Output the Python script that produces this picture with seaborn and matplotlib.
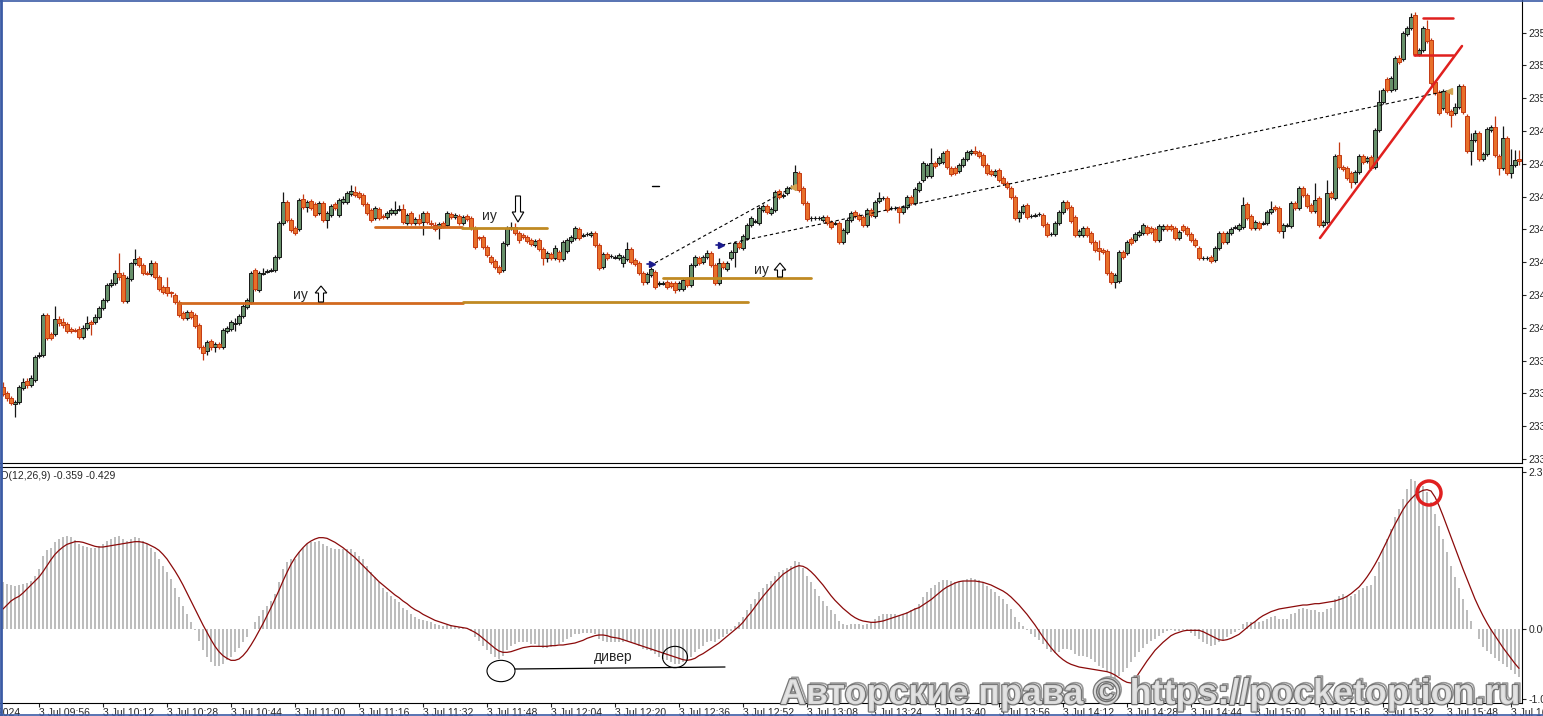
import numpy as np
import pandas as pd
import matplotlib
matplotlib.use("Agg")
import matplotlib.pyplot as plt
import matplotlib.patheffects as pe
from matplotlib import font_manager
from matplotlib.patches import Ellipse, FancyArrow
from matplotlib.lines import Line2D
import seaborn as sns

# ==============================
# 1. Data (1-minute XAUUSD bars, 3 Jul 2024)
# ==============================
OPEN = [
    2337.15, 2336.85, 2336.60, 2336.30, 2336.40, 2337.10, 2337.45, 2337.25, 2337.50, 2338.70,
    2338.75, 2340.75, 2339.80, 2339.80, 2340.55, 2340.40, 2340.30, 2340.05, 2340.00, 2340.05,
    2339.65, 2340.10, 2340.40, 2340.40, 2340.65, 2341.10, 2341.50, 2342.25, 2342.35, 2342.85,
    2342.75, 2341.45, 2342.55, 2343.35, 2343.60, 2343.25, 2342.85, 2342.80, 2343.35, 2342.65,
    2342.15, 2342.15, 2341.90, 2341.75, 2341.40, 2340.85, 2340.60, 2340.90, 2340.75, 2340.25,
    2339.15, 2338.95, 2339.45, 2339.15, 2339.30, 2339.15, 2339.95, 2340.05, 2340.32, 2340.35,
    2340.70, 2341.15, 2341.40, 2343.00, 2342.00, 2342.82, 2342.92, 2342.97, 2343.00, 2343.65,
    2345.35, 2346.40, 2345.50, 2345.10, 2345.05, 2346.55, 2346.15, 2346.45, 2346.30, 2345.85,
    2346.35, 2345.50, 2345.75, 2346.30, 2345.75, 2346.40, 2346.40, 2346.80, 2346.90, 2346.85,
    2346.75, 2346.30, 2346.00, 2345.60, 2346.05, 2345.68, 2345.65, 2345.85, 2345.85, 2346.02,
    2346.05, 2345.35, 2345.85, 2345.35, 2345.55, 2345.40, 2345.85, 2345.35, 2345.25, 2345.10,
    2345.35, 2345.25, 2345.80, 2345.65, 2345.70, 2345.35, 2345.70, 2345.60, 2345.10, 2344.65,
    2344.65, 2344.15, 2343.65, 2343.45, 2343.15, 2343.00, 2344.30, 2345.10, 2345.15, 2344.85,
    2344.75, 2344.65, 2344.50, 2344.25, 2344.50, 2344.05, 2343.60, 2343.80, 2343.60, 2343.90,
    2343.55, 2343.95, 2344.45, 2344.60, 2345.05, 2344.72, 2344.78, 2344.75, 2344.85, 2344.25,
    2343.15, 2343.80, 2343.68, 2343.62, 2343.60, 2343.35, 2343.55, 2344.05, 2343.50, 2343.35,
    2342.85, 2342.40, 2342.75, 2342.90, 2342.32, 2342.32, 2342.40, 2342.35, 2342.35, 2342.05,
    2342.05, 2342.55, 2342.25, 2343.25, 2343.60, 2343.40, 2343.65, 2343.85, 2343.25, 2342.35,
    2343.35, 2343.05, 2343.60, 2343.90, 2344.35, 2344.10, 2344.60, 2345.25, 2345.42, 2345.35,
    2346.00, 2346.20, 2345.85, 2346.00, 2346.95, 2346.72, 2346.85, 2347.12, 2347.10, 2347.85,
    2347.10, 2346.35, 2345.58, 2345.58, 2345.58, 2345.50, 2345.65, 2345.40, 2345.32, 2345.35,
    2344.40, 2344.90, 2345.50, 2345.90, 2345.75, 2345.65, 2345.25, 2346.00, 2345.70, 2346.45,
    2346.58, 2346.60, 2346.08, 2346.08, 2346.10, 2345.90, 2346.15, 2346.65, 2346.35, 2347.00,
    2347.50, 2347.70, 2347.70, 2348.35, 2348.35, 2348.40, 2348.95, 2348.10, 2348.10, 2347.95,
    2348.25, 2348.55, 2348.85, 2348.95, 2348.90, 2348.75, 2348.25, 2347.95, 2347.75, 2348.00,
    2347.60, 2347.35, 2347.10, 2346.65, 2345.60, 2345.90, 2346.25, 2345.68, 2345.72, 2345.78,
    2345.75, 2345.30, 2344.78, 2344.80, 2345.35, 2345.90, 2346.40, 2346.15, 2345.65, 2344.75,
    2344.75, 2345.10, 2344.85, 2344.40, 2344.10, 2344.00, 2343.95, 2342.85, 2342.40, 2342.45,
    2343.90, 2343.85, 2344.55, 2344.50, 2344.75, 2344.85, 2345.15, 2345.10, 2345.05, 2344.50,
    2345.05, 2345.20, 2345.20, 2345.10, 2344.60, 2345.20, 2345.10, 2344.80, 2344.50, 2344.10,
    2343.58, 2343.58, 2343.65, 2343.50, 2344.10, 2344.85, 2344.40, 2344.85, 2345.12, 2345.05,
    2345.15, 2346.30, 2345.70, 2345.10, 2345.35, 2345.32, 2345.35, 2345.90, 2346.15, 2346.10,
    2344.95, 2345.22, 2345.20, 2346.35, 2346.10, 2347.10, 2346.75, 2346.25, 2345.95, 2346.60,
    2345.25, 2345.40, 2346.85, 2346.60, 2348.75, 2348.15, 2348.10, 2347.85, 2347.40, 2347.90,
    2348.70, 2348.45, 2348.65, 2348.15, 2350.00, 2351.40, 2352.55, 2352.00, 2352.05, 2353.60,
    2353.55, 2354.80, 2355.10, 2355.75, 2353.80, 2354.00, 2355.05, 2354.50, 2352.40, 2351.90,
    2351.10, 2351.90, 2350.95, 2350.85, 2351.15, 2352.20, 2350.70, 2348.95, 2349.50, 2349.85,
    2348.55, 2348.80, 2350.00, 2350.15, 2348.70, 2348.10, 2349.60, 2347.85, 2348.25, 2348.55,
]
HIGH = [
    2337.40, 2336.95, 2336.70, 2336.50, 2337.25, 2337.60, 2337.60, 2337.75, 2338.75, 2338.90,
    2340.85, 2340.85, 2339.90, 2341.20, 2340.70, 2340.60, 2340.40, 2340.15, 2340.10, 2340.20,
    2340.25, 2340.70, 2340.50, 2340.80, 2341.20, 2341.60, 2342.35, 2342.55, 2343.00, 2343.85,
    2342.90, 2342.70, 2343.40, 2344.05, 2343.70, 2343.35, 2342.95, 2343.50, 2343.45, 2342.75,
    2342.25, 2342.65, 2341.95, 2341.85, 2341.50, 2340.95, 2341.00, 2341.00, 2340.85, 2340.35,
    2339.25, 2339.50, 2339.55, 2339.40, 2339.40, 2340.10, 2340.20, 2340.50, 2340.60, 2340.80,
    2341.30, 2341.60, 2342.95, 2343.10, 2342.95, 2343.10, 2343.05, 2343.10, 2343.75, 2345.45,
    2346.90, 2346.50, 2345.60, 2345.20, 2346.60, 2346.80, 2346.50, 2346.55, 2346.40, 2346.45,
    2346.45, 2345.95, 2346.30, 2346.40, 2346.60, 2346.70, 2346.95, 2347.25, 2347.20, 2346.95,
    2346.85, 2346.40, 2346.10, 2346.20, 2346.15, 2345.80, 2345.95, 2346.10, 2346.45, 2346.25,
    2346.30, 2345.85, 2345.95, 2345.65, 2345.80, 2345.95, 2345.95, 2345.50, 2345.40, 2345.40,
    2345.45, 2345.95, 2345.90, 2345.85, 2345.80, 2345.75, 2345.80, 2345.70, 2345.20, 2344.70,
    2344.75, 2344.25, 2343.75, 2343.55, 2343.25, 2344.45, 2345.20, 2345.40, 2345.35, 2344.95,
    2344.85, 2344.75, 2344.60, 2344.55, 2344.60, 2344.15, 2343.95, 2343.90, 2344.25, 2344.00,
    2344.50, 2344.60, 2344.75, 2345.20, 2345.15, 2344.85, 2344.90, 2344.95, 2344.95, 2344.35,
    2343.90, 2343.90, 2343.80, 2343.75, 2343.85, 2343.75, 2344.40, 2344.15, 2343.60, 2343.45,
    2342.95, 2342.90, 2343.15, 2343.00, 2342.45, 2342.45, 2342.50, 2342.45, 2342.45, 2342.45,
    2342.60, 2342.65, 2343.35, 2343.75, 2343.70, 2343.75, 2344.00, 2343.95, 2343.35, 2343.60,
    2343.45, 2343.45, 2344.00, 2344.45, 2344.45, 2344.80, 2345.35, 2345.70, 2345.55, 2346.20,
    2346.30, 2346.30, 2346.15, 2347.00, 2347.05, 2346.85, 2347.20, 2347.25, 2348.25, 2347.95,
    2347.20, 2346.45, 2345.70, 2345.70, 2345.70, 2345.75, 2345.75, 2345.50, 2345.45, 2345.45,
    2345.10, 2345.60, 2345.95, 2346.00, 2345.85, 2345.75, 2346.10, 2346.10, 2346.50, 2346.90,
    2346.70, 2346.70, 2346.20, 2346.20, 2346.20, 2346.25, 2346.75, 2346.75, 2347.15, 2347.45,
    2348.45, 2348.35, 2349.10, 2348.45, 2348.70, 2348.95, 2349.05, 2348.20, 2348.20, 2348.35,
    2348.65, 2349.00, 2349.05, 2349.20, 2349.00, 2348.85, 2348.35, 2348.05, 2348.05, 2348.10,
    2347.70, 2347.45, 2347.20, 2346.75, 2346.00, 2346.30, 2346.35, 2345.80, 2345.85, 2345.90,
    2345.85, 2345.40, 2344.90, 2345.45, 2346.00, 2346.50, 2346.50, 2346.25, 2345.75, 2345.05,
    2345.20, 2345.20, 2344.95, 2344.50, 2344.50, 2344.10, 2344.05, 2342.95, 2342.85, 2344.00,
    2344.00, 2344.50, 2344.65, 2344.90, 2345.00, 2345.35, 2345.25, 2345.20, 2345.15, 2345.30,
    2345.30, 2345.30, 2345.30, 2345.20, 2345.00, 2345.30, 2345.20, 2344.90, 2344.60, 2344.20,
    2343.70, 2343.70, 2343.75, 2344.20, 2344.95, 2344.95, 2344.95, 2345.15, 2345.25, 2345.35,
    2346.65, 2346.40, 2345.80, 2345.50, 2345.45, 2345.45, 2346.00, 2346.45, 2346.25, 2346.20,
    2345.35, 2345.35, 2346.45, 2346.45, 2347.20, 2347.20, 2346.85, 2346.35, 2347.35, 2346.70,
    2345.50, 2347.50, 2346.95, 2348.80, 2349.40, 2348.25, 2348.20, 2347.95, 2348.00, 2348.80,
    2348.80, 2348.70, 2348.75, 2350.10, 2352.00, 2352.10, 2352.65, 2352.70, 2353.70, 2353.75,
    2354.95, 2355.20, 2355.85, 2355.90, 2354.10, 2355.20, 2355.50, 2354.60, 2352.50, 2352.00,
    2352.05, 2352.00, 2351.05, 2351.35, 2352.30, 2352.30, 2350.80, 2349.85, 2350.00, 2349.95,
    2348.90, 2350.15, 2350.25, 2350.70, 2348.80, 2350.20, 2349.70, 2349.05, 2349.00, 2349.00,
]
LOW = [
    2336.70, 2336.45, 2336.25, 2335.65, 2336.30, 2337.00, 2337.10, 2337.15, 2337.40, 2338.60,
    2338.65, 2339.50, 2339.50, 2339.70, 2340.20, 2340.10, 2339.85, 2339.85, 2339.90, 2339.55,
    2339.55, 2340.00, 2339.75, 2340.30, 2340.55, 2341.00, 2341.40, 2342.15, 2342.25, 2342.50,
    2341.35, 2341.35, 2342.45, 2343.25, 2343.15, 2342.75, 2342.75, 2342.70, 2342.55, 2341.95,
    2341.80, 2341.70, 2341.65, 2341.30, 2340.65, 2340.50, 2340.50, 2340.55, 2340.10, 2339.05,
    2338.50, 2338.75, 2339.00, 2338.90, 2339.05, 2339.05, 2339.85, 2339.95, 2339.95, 2340.25,
    2340.60, 2341.05, 2341.30, 2341.95, 2341.90, 2342.75, 2342.85, 2342.90, 2342.90, 2343.55,
    2345.25, 2345.40, 2344.90, 2344.75, 2344.95, 2346.05, 2345.90, 2346.00, 2345.65, 2345.75,
    2345.40, 2345.10, 2345.65, 2346.00, 2345.65, 2346.30, 2346.30, 2346.70, 2346.65, 2346.55,
    2346.20, 2345.75, 2345.40, 2345.50, 2345.50, 2345.55, 2345.55, 2345.75, 2345.75, 2345.95,
    2345.30, 2345.25, 2345.25, 2345.25, 2345.25, 2344.75, 2345.30, 2345.20, 2344.95, 2344.55,
    2345.10, 2345.15, 2345.55, 2345.55, 2345.25, 2345.25, 2345.45, 2345.00, 2344.05, 2344.50,
    2344.05, 2343.65, 2343.30, 2343.05, 2342.80, 2342.90, 2344.20, 2345.00, 2344.75, 2344.35,
    2344.55, 2344.35, 2344.20, 2344.15, 2343.95, 2343.25, 2343.40, 2343.50, 2343.50, 2343.40,
    2343.45, 2343.85, 2344.35, 2344.50, 2344.50, 2344.65, 2344.70, 2344.65, 2344.15, 2343.00,
    2343.05, 2343.50, 2343.60, 2343.55, 2343.50, 2343.15, 2343.45, 2343.30, 2343.20, 2342.75,
    2342.25, 2342.30, 2342.65, 2342.05, 2342.20, 2342.25, 2342.05, 2342.10, 2341.85, 2341.95,
    2341.95, 2342.15, 2342.15, 2343.15, 2343.25, 2343.30, 2343.55, 2343.15, 2342.25, 2342.25,
    2343.05, 2342.95, 2343.50, 2343.15, 2344.05, 2344.00, 2344.50, 2345.15, 2345.35, 2345.25,
    2345.90, 2345.80, 2345.75, 2345.90, 2346.55, 2346.60, 2346.75, 2347.05, 2347.00, 2346.90,
    2346.25, 2345.45, 2345.45, 2345.50, 2345.50, 2345.40, 2345.25, 2345.05, 2345.25, 2344.30,
    2344.30, 2344.80, 2345.40, 2345.60, 2345.45, 2345.15, 2345.15, 2345.65, 2345.60, 2346.35,
    2346.50, 2345.90, 2346.00, 2346.00, 2345.35, 2345.80, 2346.05, 2346.25, 2346.25, 2346.90,
    2347.40, 2347.60, 2347.60, 2348.10, 2348.25, 2348.30, 2348.05, 2347.70, 2347.75, 2347.85,
    2348.15, 2348.45, 2348.75, 2348.75, 2348.60, 2348.15, 2347.75, 2347.70, 2347.65, 2347.40,
    2347.25, 2347.05, 2346.55, 2345.50, 2345.40, 2345.80, 2345.55, 2345.60, 2345.65, 2345.70,
    2345.15, 2344.65, 2344.70, 2344.70, 2345.25, 2345.80, 2346.00, 2345.35, 2344.65, 2344.65,
    2344.65, 2344.65, 2344.30, 2343.90, 2343.50, 2343.80, 2342.75, 2342.30, 2342.10, 2342.35,
    2343.55, 2343.75, 2344.25, 2344.40, 2344.65, 2344.75, 2344.75, 2344.80, 2344.40, 2344.40,
    2344.95, 2344.95, 2344.95, 2344.50, 2344.50, 2344.90, 2344.70, 2344.40, 2344.15, 2343.50,
    2343.50, 2343.50, 2343.35, 2343.40, 2344.00, 2344.30, 2344.30, 2344.75, 2345.05, 2344.95,
    2345.05, 2345.50, 2345.00, 2345.00, 2345.00, 2345.25, 2345.25, 2345.80, 2345.95, 2344.85,
    2344.60, 2345.15, 2345.10, 2346.00, 2346.00, 2346.65, 2346.10, 2345.85, 2345.85, 2345.15,
    2345.15, 2345.30, 2346.55, 2346.50, 2348.05, 2347.95, 2347.50, 2347.10, 2347.30, 2347.80,
    2348.30, 2348.35, 2348.00, 2348.05, 2349.90, 2351.30, 2351.90, 2351.90, 2351.95, 2353.30,
    2353.45, 2354.70, 2355.00, 2353.70, 2353.70, 2353.90, 2354.35, 2352.25, 2351.75, 2350.75,
    2351.00, 2350.80, 2350.15, 2350.75, 2351.05, 2350.80, 2348.85, 2348.25, 2349.40, 2348.45,
    2348.45, 2348.70, 2349.90, 2348.65, 2347.75, 2348.00, 2347.75, 2347.60, 2348.15, 2348.25,
]
CLOSE = [
    2336.80, 2336.60, 2336.35, 2336.40, 2337.15, 2337.40, 2337.25, 2337.60, 2338.65, 2338.75,
    2340.75, 2339.60, 2339.60, 2340.55, 2340.35, 2340.25, 2339.95, 2339.95, 2339.97, 2339.65,
    2340.10, 2340.35, 2340.30, 2340.65, 2341.10, 2341.50, 2342.25, 2342.35, 2342.85, 2342.65,
    2341.45, 2342.60, 2343.35, 2343.55, 2343.25, 2342.85, 2342.82, 2343.35, 2342.65, 2342.05,
    2341.90, 2341.85, 2341.85, 2341.40, 2340.75, 2340.60, 2340.90, 2340.65, 2340.20, 2339.15,
    2338.85, 2339.40, 2339.15, 2339.30, 2339.15, 2340.00, 2340.10, 2340.40, 2340.35, 2340.70,
    2341.20, 2341.50, 2342.85, 2342.05, 2342.85, 2342.85, 2342.95, 2343.00, 2343.65, 2345.35,
    2346.40, 2345.50, 2345.00, 2344.85, 2346.50, 2346.15, 2346.40, 2346.10, 2345.75, 2346.35,
    2345.50, 2345.85, 2346.20, 2346.10, 2346.50, 2346.55, 2346.85, 2346.95, 2346.75, 2346.65,
    2346.30, 2345.85, 2345.50, 2346.10, 2345.60, 2345.65, 2345.85, 2346.00, 2346.00, 2346.05,
    2345.40, 2345.75, 2345.35, 2345.55, 2345.35, 2345.85, 2345.40, 2345.32, 2345.05, 2345.30,
    2345.20, 2345.85, 2345.65, 2345.75, 2345.35, 2345.65, 2345.55, 2345.10, 2344.15, 2344.60,
    2344.15, 2343.75, 2343.40, 2343.15, 2342.90, 2344.35, 2345.10, 2345.15, 2344.85, 2344.50,
    2344.65, 2344.45, 2344.30, 2344.45, 2344.05, 2343.60, 2343.85, 2343.60, 2344.10, 2343.55,
    2344.40, 2344.50, 2344.65, 2345.10, 2344.60, 2344.75, 2344.80, 2344.85, 2344.25, 2343.10,
    2343.80, 2343.60, 2343.70, 2343.65, 2343.75, 2343.65, 2344.05, 2343.40, 2343.30, 2342.85,
    2342.40, 2342.80, 2343.05, 2342.15, 2342.35, 2342.35, 2342.15, 2342.20, 2342.00, 2342.35,
    2342.50, 2342.25, 2343.25, 2343.65, 2343.35, 2343.65, 2343.85, 2343.25, 2342.35, 2343.35,
    2343.15, 2343.35, 2343.90, 2344.35, 2344.15, 2344.70, 2345.25, 2345.60, 2345.45, 2346.10,
    2346.20, 2345.90, 2346.05, 2346.90, 2346.65, 2346.75, 2347.10, 2347.15, 2347.90, 2347.00,
    2346.35, 2345.55, 2345.60, 2345.60, 2345.60, 2345.65, 2345.35, 2345.15, 2345.35, 2344.40,
    2345.00, 2345.50, 2345.85, 2345.70, 2345.55, 2345.25, 2346.00, 2345.75, 2346.40, 2346.60,
    2346.60, 2346.00, 2346.10, 2346.10, 2345.90, 2346.15, 2346.65, 2346.35, 2347.05, 2347.35,
    2348.35, 2348.25, 2348.35, 2348.20, 2348.60, 2348.85, 2348.15, 2347.80, 2347.85, 2348.25,
    2348.55, 2348.90, 2348.95, 2348.85, 2348.70, 2348.25, 2347.85, 2347.80, 2347.95, 2347.50,
    2347.35, 2347.15, 2346.65, 2345.60, 2345.90, 2346.20, 2345.65, 2345.70, 2345.75, 2345.80,
    2345.25, 2344.75, 2344.80, 2345.35, 2345.90, 2346.40, 2346.10, 2345.45, 2344.75, 2344.95,
    2345.10, 2344.75, 2344.40, 2344.00, 2343.95, 2343.90, 2342.85, 2342.40, 2342.75, 2343.90,
    2343.65, 2344.40, 2344.35, 2344.80, 2344.90, 2345.25, 2344.85, 2344.90, 2344.50, 2345.20,
    2345.20, 2345.05, 2345.05, 2344.60, 2344.90, 2345.00, 2344.80, 2344.50, 2344.25, 2343.60,
    2343.60, 2343.60, 2343.45, 2344.10, 2344.85, 2344.40, 2344.85, 2345.05, 2345.15, 2345.25,
    2346.25, 2345.60, 2345.10, 2345.40, 2345.10, 2345.35, 2345.90, 2346.05, 2346.05, 2344.95,
    2345.25, 2345.25, 2346.35, 2346.10, 2347.10, 2346.75, 2346.20, 2345.95, 2346.50, 2345.25,
    2345.40, 2346.85, 2346.65, 2348.70, 2348.15, 2348.05, 2347.60, 2347.40, 2347.90, 2348.70,
    2348.40, 2348.60, 2348.10, 2350.00, 2351.40, 2352.00, 2352.00, 2352.60, 2353.60, 2353.40,
    2354.85, 2355.10, 2355.65, 2353.80, 2354.00, 2355.10, 2354.45, 2352.35, 2351.85, 2350.85,
    2351.95, 2350.90, 2350.75, 2351.15, 2352.20, 2350.90, 2348.95, 2349.50, 2349.85, 2348.55,
    2348.80, 2350.05, 2350.15, 2348.75, 2348.10, 2349.60, 2347.85, 2348.25, 2348.50, 2348.45,
]

# MACD(12,26,9): main line drawn as histogram, signal as line
MACD_HIST = [
    0.70, 0.68, 0.66, 0.64, 0.66, 0.68, 0.69, 0.72, 0.80, 0.90,
    1.10, 1.18, 1.22, 1.30, 1.35, 1.38, 1.40, 1.38, 1.33, 1.28,
    1.25, 1.23, 1.22, 1.22, 1.24, 1.28, 1.32, 1.35, 1.38, 1.40,
    1.35, 1.32, 1.35, 1.38, 1.36, 1.32, 1.27, 1.22, 1.15, 1.05,
    0.95, 0.85, 0.75, 0.62, 0.48, 0.35, 0.22, 0.10, -0.02, -0.18,
    -0.32, -0.42, -0.50, -0.55, -0.55, -0.52, -0.47, -0.42, -0.35, -0.28,
    -0.20, -0.12, 0.00, 0.10, 0.20, 0.28, 0.35, 0.42, 0.52, 0.70,
    0.90, 1.00, 1.05, 1.05, 1.15, 1.22, 1.28, 1.30, 1.30, 1.32,
    1.28, 1.25, 1.22, 1.20, 1.20, 1.20, 1.20, 1.20, 1.15, 1.10,
    1.05, 0.95, 0.85, 0.78, 0.70, 0.62, 0.55, 0.50, 0.45, 0.40,
    0.32, 0.28, 0.22, 0.18, 0.15, 0.14, 0.12, 0.10, 0.08, 0.06,
    0.05, 0.06, 0.06, 0.05, 0.03, 0.02, 0.00, -0.03, -0.12, -0.18,
    -0.25, -0.32, -0.38, -0.42, -0.45, -0.40, -0.32, -0.25, -0.22, -0.20,
    -0.20, -0.20, -0.22, -0.23, -0.25, -0.28, -0.28, -0.27, -0.25, -0.23,
    -0.20, -0.15, -0.12, -0.08, -0.07, -0.06, -0.06, -0.06, -0.08, -0.15,
    -0.18, -0.20, -0.20, -0.20, -0.20, -0.20, -0.18, -0.20, -0.22, -0.25,
    -0.30, -0.32, -0.33, -0.38, -0.42, -0.45, -0.47, -0.50, -0.52, -0.52,
    -0.50, -0.48, -0.42, -0.35, -0.30, -0.25, -0.20, -0.18, -0.20, -0.15,
    -0.12, -0.08, -0.03, 0.05, 0.10, 0.18, 0.28, 0.38, 0.45, 0.55,
    0.62, 0.68, 0.72, 0.80, 0.85, 0.88, 0.92, 0.95, 1.02, 1.00,
    0.92, 0.80, 0.70, 0.60, 0.50, 0.42, 0.35, 0.28, 0.22, 0.12,
    0.08, 0.06, 0.08, 0.08, 0.08, 0.06, 0.08, 0.10, 0.15, 0.20,
    0.22, 0.22, 0.22, 0.22, 0.20, 0.22, 0.25, 0.28, 0.32, 0.38,
    0.48, 0.55, 0.62, 0.66, 0.70, 0.74, 0.74, 0.72, 0.70, 0.70,
    0.72, 0.75, 0.76, 0.75, 0.73, 0.70, 0.65, 0.60, 0.55, 0.50,
    0.45, 0.38, 0.30, 0.18, 0.10, 0.05, -0.02, -0.08, -0.12, -0.16,
    -0.22, -0.30, -0.35, -0.36, -0.34, -0.30, -0.30, -0.32, -0.38, -0.40,
    -0.40, -0.42, -0.45, -0.50, -0.55, -0.58, -0.65, -0.72, -0.75, -0.70,
    -0.65, -0.58, -0.50, -0.42, -0.35, -0.28, -0.22, -0.18, -0.15, -0.10,
    -0.06, -0.03, -0.02, -0.03, -0.03, -0.02, -0.03, -0.06, -0.10, -0.15,
    -0.20, -0.23, -0.25, -0.24, -0.20, -0.16, -0.12, -0.08, -0.05, -0.02,
    0.08, 0.10, 0.10, 0.10, 0.10, 0.12, 0.15, 0.18, 0.20, 0.15,
    0.15, 0.15, 0.22, 0.24, 0.30, 0.32, 0.30, 0.28, 0.28, 0.25,
    0.25, 0.30, 0.32, 0.45, 0.50, 0.52, 0.50, 0.50, 0.52, 0.58,
    0.62, 0.65, 0.66, 0.80, 1.00, 1.20, 1.35, 1.50, 1.68, 1.80,
    1.95, 2.10, 2.25, 2.22, 2.18, 2.15, 2.05, 1.90, 1.72, 1.55,
    1.35, 1.15, 0.95, 0.78, 0.62, 0.45, 0.28, 0.12, 0.00, -0.15,
    -0.27, -0.33, -0.38, -0.43, -0.48, -0.52, -0.57, -0.62, -0.67, -0.72,
]
MACD_SIGNAL = [
    0.30, 0.36, 0.42, 0.46, 0.49, 0.54, 0.60, 0.66, 0.72, 0.78,
    0.86, 0.95, 1.04, 1.12, 1.18, 1.23, 1.27, 1.29, 1.31, 1.31,
    1.30, 1.28, 1.26, 1.24, 1.23, 1.23, 1.24, 1.25, 1.26, 1.27,
    1.28, 1.29, 1.30, 1.31, 1.31, 1.30, 1.28, 1.25, 1.22, 1.18,
    1.12, 1.05, 0.96, 0.87, 0.77, 0.66, 0.54, 0.42, 0.30, 0.18,
    0.06, -0.05, -0.16, -0.26, -0.34, -0.40, -0.44, -0.47, -0.47, -0.45,
    -0.40, -0.33, -0.24, -0.14, -0.03, 0.08, 0.20, 0.32, 0.45, 0.58,
    0.72, 0.85, 0.97, 1.07, 1.15, 1.22, 1.28, 1.32, 1.35, 1.37,
    1.37, 1.36, 1.33, 1.30, 1.26, 1.22, 1.17, 1.12, 1.07, 1.01,
    0.95, 0.89, 0.83, 0.77, 0.71, 0.66, 0.61, 0.56, 0.51, 0.47,
    0.42, 0.38, 0.33, 0.29, 0.26, 0.22, 0.19, 0.16, 0.13, 0.11,
    0.09, 0.07, 0.05, 0.04, 0.03, 0.02, 0.01, -0.02, -0.05, -0.09,
    -0.14, -0.19, -0.24, -0.29, -0.33, -0.35, -0.35, -0.34, -0.32, -0.30,
    -0.28, -0.27, -0.26, -0.26, -0.26, -0.26, -0.26, -0.25, -0.25, -0.24,
    -0.24, -0.23, -0.22, -0.21, -0.19, -0.17, -0.14, -0.12, -0.10, -0.09,
    -0.09, -0.10, -0.12, -0.13, -0.14, -0.16, -0.18, -0.20, -0.22, -0.24,
    -0.26, -0.28, -0.30, -0.32, -0.34, -0.36, -0.38, -0.40, -0.42, -0.44,
    -0.46, -0.47, -0.46, -0.44, -0.40, -0.37, -0.33, -0.29, -0.25, -0.21,
    -0.16, -0.11, -0.06, -0.01, 0.04, 0.10, 0.18, 0.25, 0.33, 0.41,
    0.49, 0.56, 0.63, 0.70, 0.76, 0.82, 0.86, 0.90, 0.93, 0.95,
    0.94, 0.91, 0.86, 0.80, 0.73, 0.66, 0.58, 0.50, 0.43, 0.37,
    0.31, 0.26, 0.21, 0.17, 0.14, 0.12, 0.11, 0.10, 0.10, 0.11,
    0.12, 0.14, 0.16, 0.18, 0.20, 0.22, 0.24, 0.27, 0.30, 0.32,
    0.36, 0.40, 0.44, 0.49, 0.54, 0.59, 0.63, 0.66, 0.69, 0.71,
    0.72, 0.72, 0.72, 0.72, 0.71, 0.70, 0.68, 0.66, 0.63, 0.60,
    0.57, 0.53, 0.48, 0.42, 0.36, 0.29, 0.22, 0.14, 0.06, -0.03,
    -0.12, -0.20, -0.28, -0.35, -0.41, -0.46, -0.50, -0.53, -0.55, -0.57,
    -0.58, -0.59, -0.60, -0.61, -0.62, -0.63, -0.64, -0.66, -0.69, -0.73,
    -0.77, -0.80, -0.81, -0.75, -0.66, -0.57, -0.48, -0.40, -0.32, -0.26,
    -0.20, -0.15, -0.10, -0.07, -0.05, -0.03, -0.02, -0.02, -0.02, -0.02,
    -0.04, -0.07, -0.10, -0.13, -0.16, -0.17, -0.16, -0.14, -0.11, -0.08,
    -0.03, 0.02, 0.07, 0.11, 0.16, 0.20, 0.23, 0.26, 0.28, 0.30,
    0.31, 0.32, 0.33, 0.34, 0.35, 0.36, 0.36, 0.37, 0.38, 0.38,
    0.39, 0.40, 0.41, 0.42, 0.44, 0.46, 0.49, 0.53, 0.58, 0.63,
    0.70, 0.78, 0.87, 0.97, 1.08, 1.20, 1.32, 1.45, 1.57, 1.68,
    1.79, 1.88, 1.95, 2.01, 2.05, 2.08, 2.09, 2.07, 1.98, 1.85,
    1.70, 1.54, 1.38, 1.22, 1.06, 0.90, 0.75, 0.60, 0.45, 0.32,
    0.20, 0.09, -0.01, -0.10, -0.19, -0.28, -0.36, -0.44, -0.52, -0.59,
]

TIME_TICKS = list(range(9, 380, 16))
TIME_LABELS = [
    "3 Jul 09:56", "3 Jul 10:12", "3 Jul 10:28", "3 Jul 10:44", "3 Jul 11:00", "3 Jul 11:16",
    "3 Jul 11:32", "3 Jul 11:48", "3 Jul 12:04", "3 Jul 12:20", "3 Jul 12:36", "3 Jul 12:52",
    "3 Jul 13:08", "3 Jul 13:24", "3 Jul 13:40", "3 Jul 13:56", "3 Jul 14:12", "3 Jul 14:28",
    "3 Jul 14:44", "3 Jul 15:00", "3 Jul 15:16", "3 Jul 15:32", "3 Jul 15:48", "3 Jul 16:04",
]
PRICE_TICKS = [2333.55 + 1.64 * k for k in range(14)]
MACD_TICKS = [2.35, 0.0, -1.05]

# ==============================
# 2. Style
# ==============================
sns.set_style("white")
plt.rcParams['font.family'] = ['Liberation Sans', 'DejaVu Sans']

df = pd.DataFrame({"open": OPEN, "high": HIGH, "low": LOW, "close": CLOSE,
                   "hist": MACD_HIST, "signal": MACD_SIGNAL})
df["bar"] = np.arange(len(df))
up = df["close"] >= df["open"]
body_lo = np.minimum(df["open"], df["close"])
body_h = np.maximum((df["close"] - df["open"]).abs(), 0.03)

W, H = 1543, 716
fig = plt.figure(figsize=(W / 100, H / 100), dpi=100)
ax = fig.add_axes([0, (H - 463) / H, 1522 / W, 463 / H])
ax2 = fig.add_axes([0, (H - 703) / H, 1522 / W, 236 / H])

BULL_FILL, BULL_EDGE = "#67906a", "#161616"
BEAR_FILL, BEAR_EDGE = "#e8702a", "#c43a12"

# ==============================
# 3. Candles
# ==============================
ax.vlines(df["bar"][up], df["low"][up], df["high"][up], color=BULL_EDGE, lw=0.9, zorder=2)
ax.vlines(df["bar"][~up], df["low"][~up], df["high"][~up], color=BEAR_EDGE, lw=0.9, zorder=2)
ax.bar(df["bar"][up], body_h[up], bottom=body_lo[up], width=0.78,
       color=BULL_FILL, edgecolor=BULL_EDGE, linewidth=0.7, zorder=3)
ax.bar(df["bar"][~up], body_h[~up], bottom=body_lo[~up], width=0.78,
       color=BEAR_FILL, edgecolor=BEAR_EDGE, linewidth=0.7, zorder=3)

ax.set_xlim(-0.75, 379.75)
ax.set_ylim(2333.35, 2356.5)

# support / resistance lines drawn by the trader
ax.plot([43.75, 115], [2341.35, 2341.35], color="#d2691e", lw=2, zorder=4)
ax.plot([115, 186.25], [2341.38, 2341.38], color="#c08a22", lw=2, zorder=4)
ax.plot([93, 114.75], [2345.17, 2345.17], color="#d2691e", lw=2, zorder=4)
ax.plot([114.75, 136], [2345.12, 2345.12], color="#c08a22", lw=2, zorder=4)
ax.plot([165, 202], [2342.6, 2342.6], color="#c08a22", lw=2, zorder=4)

for bx, py in [(74.25, 2341.75), (121.5, 2345.7), (189.5, 2343.0)]:
    ax.text(bx, py, "иу", fontsize=10, ha="center", va="center", zorder=6)

for bx, py0, py1, hl in [(79.5, 2341.4, 2342.2, 0.35), (128.75, 2346.7, 2345.4, 0.5),
                         (194.25, 2342.65, 2343.35, 0.35)]:
    ax.add_patch(FancyArrow(bx, py0, 0, py1 - py0, width=1.25, head_width=2.9,
                            head_length=hl, length_includes_head=True,
                            facecolor="white", edgecolor="black", lw=0.8, zorder=6))

# dashed divergence lines with markers
ax.plot([163.0, 197.5], [2343.35, 2347.15], color="black", lw=0.8, ls=(0, (3, 2.5)), zorder=5)
ax.plot([179.75, 361.0], [2344.25, 2351.95], color="black", lw=0.8, ls=(0, (3, 2.5)), zorder=5)
for bx, py in [(162.3, 2343.3), (179.5, 2344.25)]:
    ax.plot([bx - 1.2, bx], [py, py], color="#1a1a8c", lw=1.2, zorder=6)
    ax.plot(bx, py, marker=">", ms=4.5, color="#1a1a8c", zorder=6)
for bx, py in [(197.5, 2347.15), (361.5, 2351.95)]:
    ax.plot(bx, py, marker="<", ms=5, color="#d0a452", zorder=6)
ax.plot([162.25, 164], [2347.2, 2347.2], color="black", lw=1, zorder=5)

# red trend line and levels
ax.plot([329.25, 364.75], [2344.6, 2354.2], color="#e0201e", lw=1.8, zorder=6)
ax.plot([355, 362.5], [2355.6, 2355.6], color="#e0201e", lw=1.8, zorder=6)
ax.plot([352.75, 362.5], [2353.75, 2353.75], color="#e0201e", lw=1.8, zorder=6)

# ==============================
# 4. MACD panel
# ==============================
ax2.bar(df["bar"], df["hist"], width=0.5, color="#bdbdbd", linewidth=0, zorder=2)
sns.lineplot(data=df, x="bar", y="signal", ax=ax2, color="#8b0a0a", lw=0.9,
             sort=False, estimator=None, zorder=3)
ax2.set_xlim(-0.75, 379.75)
ax2.set_ylim(-1.11, 2.43)
ax2.set_xlabel("")
ax2.set_ylabel("")

ax2.add_patch(Ellipse((124.5, -0.63), 7, 0.32, fill=False, edgecolor="black", lw=0.8, zorder=5))
ax2.add_patch(Ellipse((168, -0.42), 6.25, 0.32, fill=False, edgecolor="black", lw=0.8, zorder=5))
ax2.plot([128, 180.5], [-0.6, -0.57], color="black", lw=0.9, zorder=5)
ax2.text(152.5, -0.42, "дивер", fontsize=10, ha="center", va="center", zorder=6)
ax2.add_patch(Ellipse((356.5, 2.04), 6, 0.36, fill=False, edgecolor="#e02020", lw=2.5, zorder=6))

ax2.text(0.0007, 0.962, "D(12,26,9) -0.359 -0.429", transform=ax2.transAxes,
         fontsize=7.5, ha="left", va="center")

# ==============================
# 5. Axes, ticks, frame
# ==============================
for a in (ax, ax2):
    a.yaxis.tick_right()
    a.tick_params(axis="y", direction="out", length=3, width=0.8, labelsize=7.5, pad=1.5,
                  right=True, left=False)
    for s in ("left", "top"):
        a.spines[s].set_visible(False)
    for s in ("right", "bottom"):
        a.spines[s].set_color("black")
        a.spines[s].set_linewidth(0.8)
ax2.spines["top"].set_visible(True)
ax2.spines["top"].set_color("black")
ax2.spines["top"].set_linewidth(0.8)

ax.set_xticks([])
ax.set_yticks(PRICE_TICKS)
ax.set_yticklabels([f"{p:.2f}" for p in PRICE_TICKS])

ax2.set_yticks(MACD_TICKS)
ax2.set_yticklabels(["2.35", "0.00", "-1.05"])
ax2.set_xticks(TIME_TICKS)
ax2.set_xticklabels(TIME_LABELS)
ax2.tick_params(axis="x", direction="out", length=3, width=0.8, labelsize=7.5, pad=0.3,
                bottom=True)
for lbl in ax2.get_xticklabels():
    lbl.set_ha("left")
ax2.text(-7.75, -(3.3 * 1.389) / 236, "3 Jul 2024", transform=ax2.get_xaxis_transform(),
         fontsize=7.5, ha="left", va="top", clip_on=False)

# window frame of the screenshot
frame = "#3b5ba5"
fig.add_artist(Line2D([0.0007, 0.0007], [0, 1], transform=fig.transFigure, color=frame, lw=2))
fig.add_artist(Line2D([0, 1], [0.9993, 0.9993], transform=fig.transFigure, color=frame, lw=1.2))
fig.add_artist(Line2D([0, 1], [0.0008, 0.0008], transform=fig.transFigure, color=frame, lw=1.2))

# watermark (narrow bold face if available, fitted to the reference width)
names = {f.name for f in font_manager.fontManager.ttflist}
wm_family = "Liberation Sans Narrow" if "Liberation Sans Narrow" in names else "Liberation Sans"
WM_TEXT = "Авторские права © https://pocketoption.ru"
wm_shadow = fig.text(782 / W, (H - 702) / H, WM_TEXT, family=wm_family,
                     fontsize=30, fontweight="bold", color="none",
                     ha="left", va="baseline", zorder=19,
                     path_effects=[pe.withStroke(linewidth=1.2, foreground="#9a9a9a")])
wm = fig.text(780 / W, (H - 704) / H, WM_TEXT, family=wm_family,
              fontsize=30, fontweight="bold", color="#e4e4e4", alpha=0.9,
              ha="left", va="baseline", zorder=20,
              path_effects=[pe.withStroke(linewidth=1.8, foreground="#686868")])
fig.canvas.draw()
fs = 30 * 740 / wm.get_window_extent().width
wm.set_fontsize(fs)
wm_shadow.set_fontsize(fs)

fig.savefig("out.png", dpi=100)
